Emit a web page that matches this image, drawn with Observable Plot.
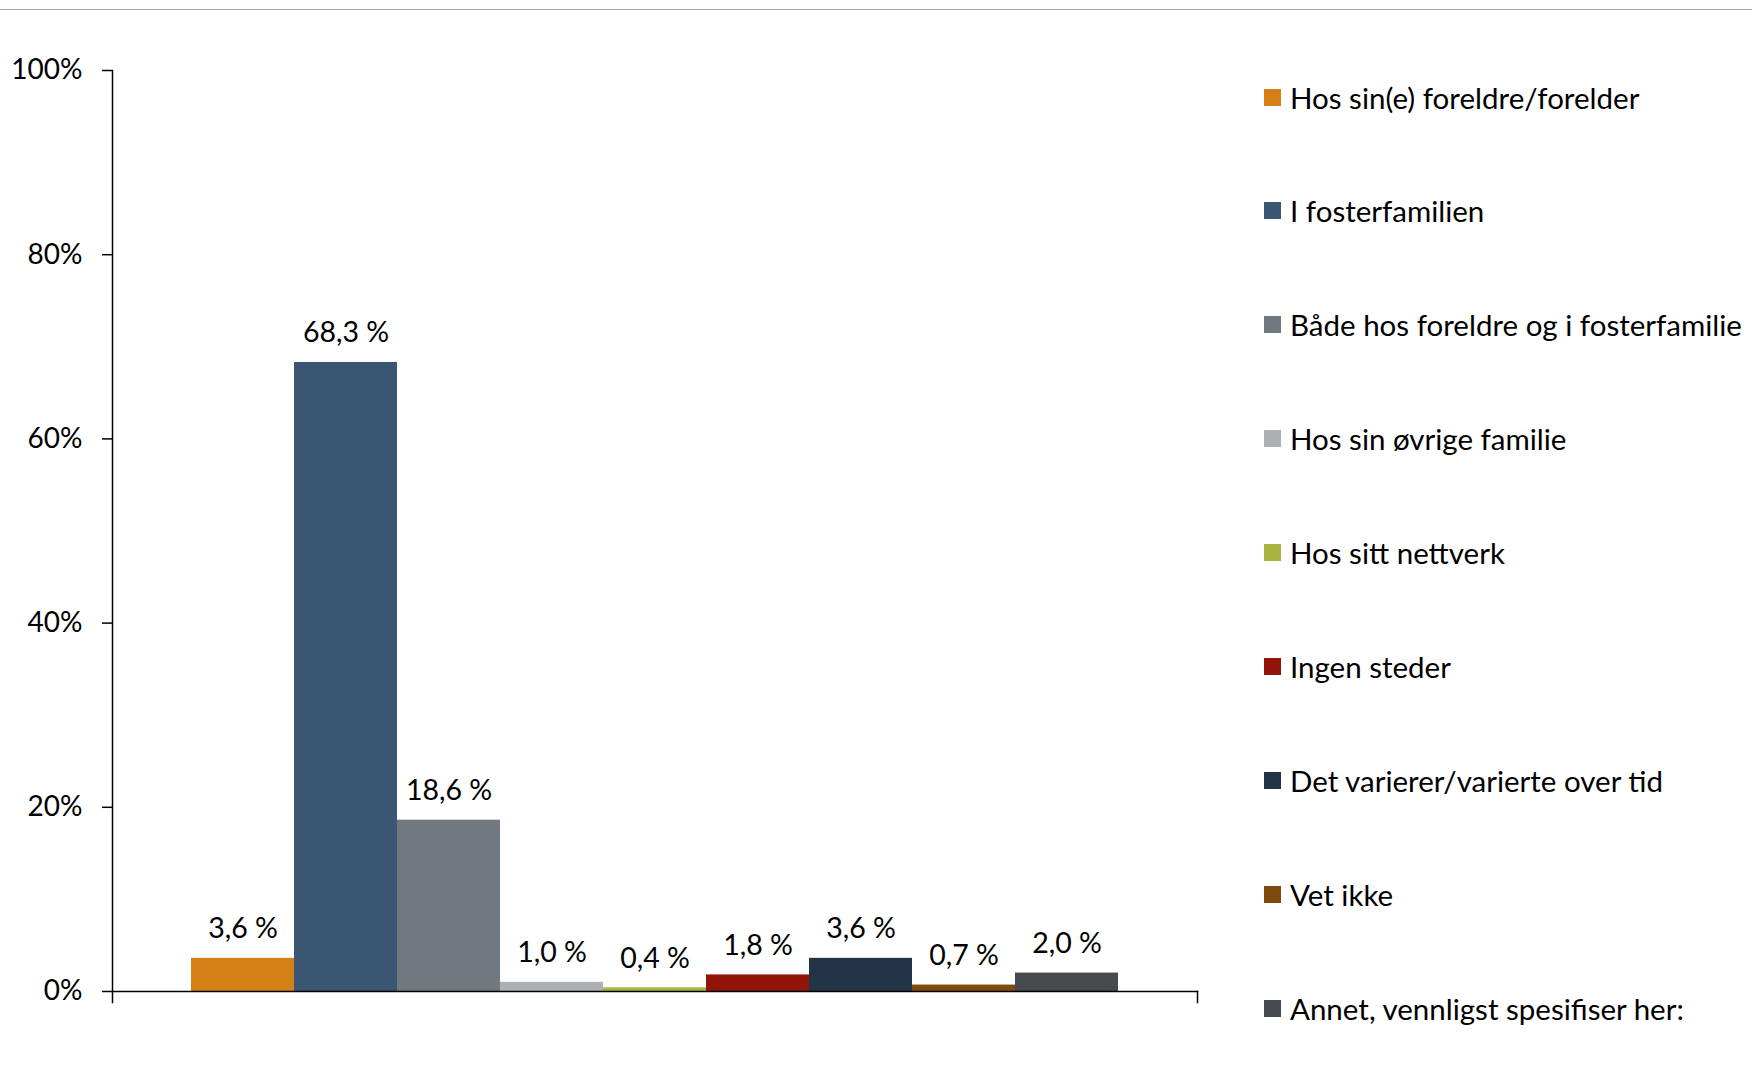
<!DOCTYPE html>
<html><head><meta charset="utf-8">
<script src="https://cdn.jsdelivr.net/npm/d3@7"></script>
<script src="https://cdn.jsdelivr.net/npm/@observablehq/plot@0.6"></script>
<style>
html,body{margin:0;padding:0;background:#fff;}
#wrap{position:relative;width:1752px;height:1088px;font-family:Lato,"Open Sans",sans-serif;overflow:hidden;}
#topline{position:absolute;left:0;top:9px;width:1752px;height:0;border-top:1.5px solid #a3a3a3;}
#chart{position:absolute;left:0;top:0;}
#legend{position:absolute;left:1264px;top:0;}
.item{position:absolute;left:0;height:34px;display:flex;align-items:center;white-space:nowrap;font-size:29.5px;color:#000;}
.sw{width:17px;height:17px;margin-right:9px;flex:none;}
</style></head><body>
<div id="wrap"><div id="topline"></div><div id="chart"></div><div id="legend"></div></div>
<script>
const categories = [
  "Hos sin(e) foreldre/forelder",
  "I fosterfamilien",
  "Både hos foreldre og i fosterfamilie",
  "Hos sin øvrige familie",
  "Hos sitt nettverk",
  "Ingen steder",
  "Det varierer/varierte over tid",
  "Vet ikke",
  "Annet, vennligst spesifiser her:"
];
const values = [3.6, 68.3, 18.6, 1.0, 0.4, 1.8, 3.6, 0.7, 2.0];
const colors = ["#d57f17", "#3a5672", "#727880", "#adb1b5", "#a8b440", "#931408", "#233447", "#7f4a10", "#46494e"];
const yTicks = [0, 20, 40, 60, 80, 100];

const fmt = v => v.toFixed(1).replace(".", ",") + " %";
const data = categories.map((c, i) => ({category: c, value: values[i]}));

const W = 1210, H = 1088, mt = 70, mb = 97;
const chart = Plot.plot({
  width: W, height: H,
  marginTop: mt, marginBottom: mb, marginLeft: 112, marginRight: 13,
  style: {fontFamily: "Lato, 'Open Sans', sans-serif", fontSize: "28px", color: "#000", background: "transparent"},
  x: {domain: categories, paddingInner: 0, paddingOuter: 0.75, axis: null},
  y: {domain: [0, 100], axis: null},
  color: {domain: categories, range: colors},
  marks: [
    Plot.barY(data, {x: "category", y: "value", fill: "category"}),
    Plot.text(data, {x: "category", y: "value", text: d => fmt(d.value), lineAnchor: "bottom", dy: -20, fill: "#000", fontSize: 28.5}),
    Plot.axisY({ticks: yTicks, tickSize: 10, tickPadding: 20, tickFormat: d => d + "%", stroke: "#000", strokeWidth: 1.5, fill: "#000", fontSize: 28, label: null}),
    Plot.frame({anchor: "left", insetBottom: -11, stroke: "#000", strokeWidth: 1.5}),
    Plot.frame({anchor: "bottom", stroke: "#000", strokeWidth: 1.5}),
    Plot.frame({anchor: "right", insetTop: H - mt - mb, insetBottom: -11, stroke: "#000", strokeWidth: 1.5})
  ]
});
document.getElementById("chart").appendChild(chart);

const legend = document.getElementById("legend");
categories.forEach((c, i) => {
  const item = document.createElement("div");
  item.className = "item";
  item.style.top = (97 + i * 113.9 - 17) + "px";
  const sw = document.createElement("span");
  sw.className = "sw";
  sw.style.background = colors[i];
  const t = document.createElement("span");
  t.textContent = c;
  item.appendChild(sw);
  item.appendChild(t);
  legend.appendChild(item);
});
</script>
</body></html>
